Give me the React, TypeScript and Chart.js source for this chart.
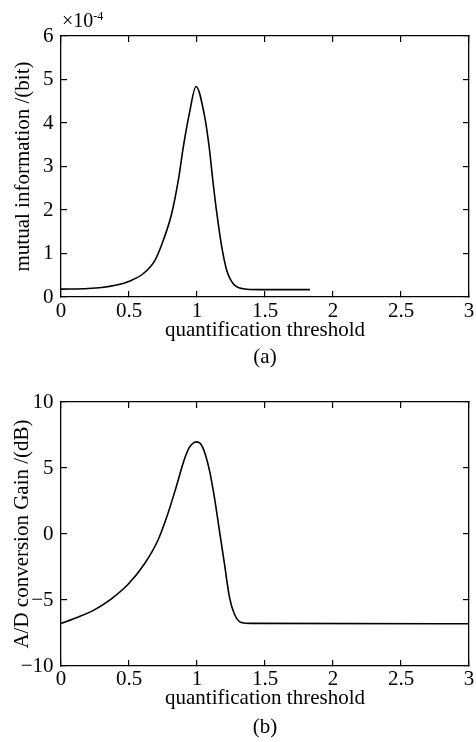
import React, { useEffect, useRef } from "react";
import { Chart, registerables } from "chart.js";

Chart.register(...registerables);

// ---------- data ----------
const xTickValues = [0, 0.5, 1, 1.5, 2, 2.5, 3];
const miTickValues = [0, 1, 2, 3, 4, 5, 6];
const gainTickValues = [-10, -5, 0, 5, 10];

// (a) mutual information, in units of 1e-4 bit
const miX = [0, 0.2, 0.3, 0.4, 0.508, 0.606, 0.692, 0.753, 0.814, 0.863, 0.9, 0.944, 0.993, 1.052, 1.089, 1.116, 1.146, 1.182, 1.219, 1.268, 1.342, 1.464, 1.83];
const miY = [0.18, 0.195, 0.22, 0.27, 0.37, 0.54, 0.85, 1.31, 1.92, 2.69, 3.46, 4.22, 4.84, 4.22, 3.46, 2.69, 1.92, 1.15, 0.61, 0.3, 0.19, 0.17, 0.17];

// (b) A/D conversion gain in dB
const gainX = [0, 0.123, 0.245, 0.368, 0.49, 0.613, 0.711, 0.785, 0.846, 0.908, 0.944, 0.98, 1.0, 1.042, 1.092, 1.128, 1.165, 1.202, 1.239, 1.275, 1.325, 1.398, 3];
const gainY = [-6.77, -6.31, -5.75, -4.93, -3.85, -2.27, -0.51, 1.52, 3.53, 5.68, 6.56, 6.94, 6.98, 6.56, 4.8, 2.77, 0.25, -2.27, -4.8, -6.06, -6.7, -6.77, -6.8];

// ---------- helpers ----------
const FONT = "'Liberation Serif', 'Times New Roman', serif";
const FS = 21;
const fmtTick = (v: number) => (v < 0 ? "\u2212" + String(Math.abs(v)) : String(v));

const annotPlugin = {
  id: "annot",
  afterDraw(chart: any, _args: any, opts: any) {
    const ctx = chart.ctx;
    const a = chart.chartArea;
    ctx.save();
    ctx.fillStyle = "#000";
    ctx.font = `${FS}px ${FONT}`;
    ctx.textAlign = "center";
    ctx.textBaseline = "middle";
    ctx.fillText(opts.caption, (a.left + a.right) / 2, opts.captionY);
    if (opts.exponent) {
      ctx.textAlign = "left";
      ctx.textBaseline = "alphabetic";
      ctx.font = `20px ${FONT}`;
      ctx.fillText("\u00d710", a.left + 1, 26.5);
      const w = ctx.measureText("\u00d710").width;
      ctx.font = `12px ${FONT}`;
      ctx.fillText(opts.exponent, a.left + 1 + w, 20);
    }
    ctx.restore();
  },
};

function makeConfig(p: any) {
  const pts = p.xs.map((x: number, i: number) => ({ x, y: p.ys[i] }));
  const gridCommon = {
    drawOnChartArea: false,
    drawTicks: true,
    tickLength: -6,
    color: "#000",
    lineWidth: 1.2,
  };
  const border = { display: true, color: "#000", width: 1.3 };
  const setTicks = (vals: number[]) => (scale: any) => {
    scale.ticks = vals.map((v) => ({ value: v }));
  };
  return {
    type: "line",
    data: {
      datasets: [
        {
          data: pts,
          borderColor: "#000",
          borderWidth: 1.6,
          pointRadius: 0,
          fill: false,
          cubicInterpolationMode: "monotone",
        },
      ],
    },
    options: {
      responsive: false,
      animation: false,
      events: [],
      layout: { padding: { top: p.plotTop, right: 7, left: 0, bottom: 0 } },
      plugins: {
        legend: { display: false },
        tooltip: { enabled: false },
        annot: { caption: p.caption, captionY: p.captionY, exponent: p.exponent },
      },
      scales: {
        x: {
          type: "linear",
          position: "bottom",
          min: 0,
          max: 3,
          afterBuildTicks: setTicks(xTickValues),
          afterFit: (s: any) => {
            s.height = p.canvasH - p.plotBottom;
            s.paddingLeft = 0;
            s.paddingRight = 0;
          },
          grid: gridCommon,
          border,
          ticks: {
            color: "#000",
            font: { family: FONT, size: FS },
            padding: p.xTickPad,
            maxRotation: 0,
            autoSkip: false,
            callback: (v: number) => fmtTick(v),
          },
          title: {
            display: true,
            text: "quantification threshold",
            color: "#000",
            font: { family: FONT, size: FS },
            padding: { top: 0, bottom: p.xTitlePad },
          },
        },
        x2: {
          type: "linear",
          position: "top",
          min: 0,
          max: 3,
          afterBuildTicks: setTicks(xTickValues),
          afterFit: (s: any) => {
            s.height = 0;
            s.paddingLeft = 0;
            s.paddingRight = 0;
          },
          grid: gridCommon,
          border,
          ticks: { display: false },
        },
        y: {
          type: "linear",
          position: "left",
          min: p.yMin,
          max: p.yMax,
          afterBuildTicks: setTicks(p.yTicks),
          afterFit: (s: any) => {
            s.width = 61;
            s.paddingTop = 0;
            s.paddingBottom = 0;
          },
          grid: gridCommon,
          border,
          ticks: {
            color: "#000",
            font: { family: FONT, size: FS },
            padding: 13.5,
            autoSkip: false,
            callback: (v: number) => fmtTick(v),
          },
          title: {
            display: true,
            text: p.yTitle,
            color: "#000",
            font: { family: FONT, size: FS },
            padding: { top: p.yTitlePad, bottom: 0 },
          },
        },
        y2: {
          type: "linear",
          position: "right",
          min: p.yMin,
          max: p.yMax,
          afterBuildTicks: setTicks(p.yTicks),
          afterFit: (s: any) => {
            s.width = 0;
            s.paddingTop = 0;
            s.paddingBottom = 0;
          },
          grid: gridCommon,
          border,
          ticks: { display: false },
        },
      },
    },
    plugins: [annotPlugin],
  };
}

function Panel(props: any) {
  const ref = useRef<HTMLCanvasElement>(null);
  useEffect(() => {
    if (!ref.current) return;
    const chart = new Chart(ref.current, makeConfig(props.cfg) as any);
    return () => chart.destroy();
  }, []);
  return (
    <canvas
      ref={ref}
      width={476}
      height={props.cfg.canvasH}
      style={{ position: "absolute", left: 0, top: props.top, width: 476, height: props.cfg.canvasH, display: "block" }}
    />
  );
}

const cfgA = {
  xs: miX,
  ys: miY,
  yTicks: miTickValues,
  yMin: 0,
  yMax: 6,
  yTitle: "mutual information /(bit)",
  plotTop: 36,
  plotBottom: 297,
  canvasH: 370,
  xTickPad: 7.4,
  xTitlePad: 27.4,
  yTitlePad: 10.4,
  caption: "(a)",
  captionY: 357,
  exponent: "-4",
};

const cfgB = {
  xs: gainX,
  ys: gainY,
  yTicks: gainTickValues,
  yMin: -10,
  yMax: 10,
  yTitle: "A/D conversion Gain /(dB)",
  plotTop: 32,
  plotBottom: 296,
  canvasH: 372,
  xTickPad: 6.4,
  xTitlePad: 31.4,
  yTitlePad: 9.4,
  caption: "(b)",
  captionY: 357,
  exponent: "",
};

export default function App() {
  return (
    <div style={{ position: "fixed", left: 0, top: 0, width: 476, height: 742, background: "#fff" }}>
      <Panel cfg={cfgA} top={0} />
      <Panel cfg={cfgB} top={370} />
    </div>
  );
}
